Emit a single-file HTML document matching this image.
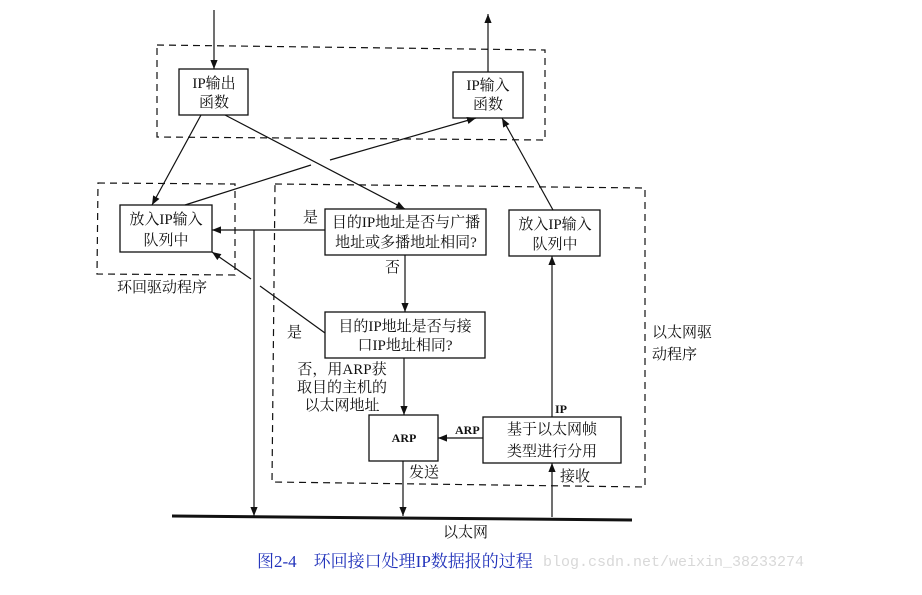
<!DOCTYPE html>
<html><head><meta charset="utf-8"><style>
html,body{margin:0;padding:0;background:#fff;}
svg text{font-family:"Liberation Serif","Noto Serif CJK SC",serif;font-size:15px;fill:#111;}
</style></head><body>
<svg width="922" height="590" viewBox="0 0 922 590" xmlns="http://www.w3.org/2000/svg">
<defs><marker id="a" viewBox="0 0 10 10" refX="10" refY="5" markerWidth="9" markerHeight="9" orient="auto-start-reverse" markerUnits="userSpaceOnUse"><path d="M0,1 L10,5 L0,9 z" fill="#111"/></marker></defs>
<g fill="none" stroke="#111" stroke-width="1.2" stroke-dasharray="7,5">
<path d="M157,45 L545,50 L545,140 L157,137 Z"/>
<path d="M98,183 L235,184 L235,275 L97,274 Z"/>
<path d="M275,184 L645,188 L645,487 L272,482 Z"/>
</g>
<g fill="#fff" stroke="#111" stroke-width="1.3">
<rect x="179" y="69" width="69" height="46"/>
<rect x="453" y="72" width="70" height="46"/>
<rect x="120" y="205" width="92" height="47"/>
<rect x="325" y="209" width="161" height="46"/>
<rect x="509" y="210" width="91" height="46"/>
<rect x="325" y="312" width="160" height="46"/>
<rect x="369" y="415" width="69" height="46"/>
<rect x="483" y="417" width="138" height="46"/>
</g>
<g stroke="#111" stroke-width="1.2" fill="none">
<line x1="214" y1="10" x2="214" y2="69" marker-end="url(#a)"/>
<line x1="488" y1="72" x2="488" y2="14" marker-end="url(#a)"/>
<line x1="201" y1="115" x2="152" y2="205" marker-end="url(#a)"/>
<line x1="225" y1="115" x2="405" y2="209" marker-end="url(#a)"/>
<line x1="185" y1="205" x2="311" y2="165"/>
<line x1="330" y1="160" x2="476" y2="118" marker-end="url(#a)"/>
<line x1="553" y1="210" x2="502" y2="118" marker-end="url(#a)"/>
<line x1="325" y1="230" x2="212" y2="230" marker-end="url(#a)"/>
<line x1="405" y1="255" x2="405" y2="312" marker-end="url(#a)"/>
<line x1="325" y1="333" x2="260" y2="286"/>
<line x1="251" y1="279" x2="212" y2="252" marker-end="url(#a)"/>
<line x1="254" y1="230" x2="254" y2="516" marker-end="url(#a)"/>
<line x1="404" y1="358" x2="404" y2="415" marker-end="url(#a)"/>
<line x1="483" y1="438" x2="438" y2="438" marker-end="url(#a)"/>
<line x1="552" y1="417" x2="552" y2="256" marker-end="url(#a)"/>
<line x1="403" y1="461" x2="403" y2="516" marker-end="url(#a)"/>
<line x1="552" y1="517" x2="552" y2="463" marker-end="url(#a)"/>
</g>
<line x1="172" y1="516" x2="632" y2="520" stroke="#111" stroke-width="3"/>
<g text-anchor="middle">
<text x="214" y="88">IP输出</text><text x="214" y="107">函数</text>
<text x="488" y="90">IP输入</text><text x="488" y="109">函数</text>
<text x="166" y="224">放入IP输入</text><text x="166" y="245">队列中</text>
<text x="406" y="227">目的IP地址是否与广播</text><text x="406" y="247">地址或多播地址相同?</text>
<text x="555" y="229">放入IP输入</text><text x="555" y="249">队列中</text>
<text x="405" y="331">目的IP地址是否与接</text><text x="405" y="350">口IP地址相同?</text>
<text x="404" y="442" style="font-size:12px;font-weight:bold">ARP</text>
<text x="552" y="434">基于以太网帧</text><text x="552" y="456">类型进行分用</text>
<text x="342" y="374">否，用ARP获</text><text x="342" y="392">取目的主机的</text><text x="342" y="410">以太网地址</text>
</g>
<text x="117" y="292">环回驱动程序</text>
<text x="303" y="222">是</text>
<text x="385" y="272">否</text>
<text x="287" y="337">是</text>
<text x="455" y="434" style="font-size:12px;font-weight:bold">ARP</text>
<text x="555" y="413" style="font-size:12px;font-weight:bold">IP</text>
<text x="409" y="477">发送</text>
<text x="560" y="481">接收</text>
<text x="443" y="537">以太网</text>
<text x="652" y="337">以太网驱</text><text x="652" y="359">动程序</text>
<text x="543" y="566" style="font-family:'Liberation Mono',monospace;font-size:15px;fill:#d8d8d8">blog.csdn.net/weixin_38233274</text>
<text x="257" y="567" style="fill:#2233bb;font-size:17px">图2-4　环回接口处理IP数据报的过程</text>
</svg>
</body></html>
